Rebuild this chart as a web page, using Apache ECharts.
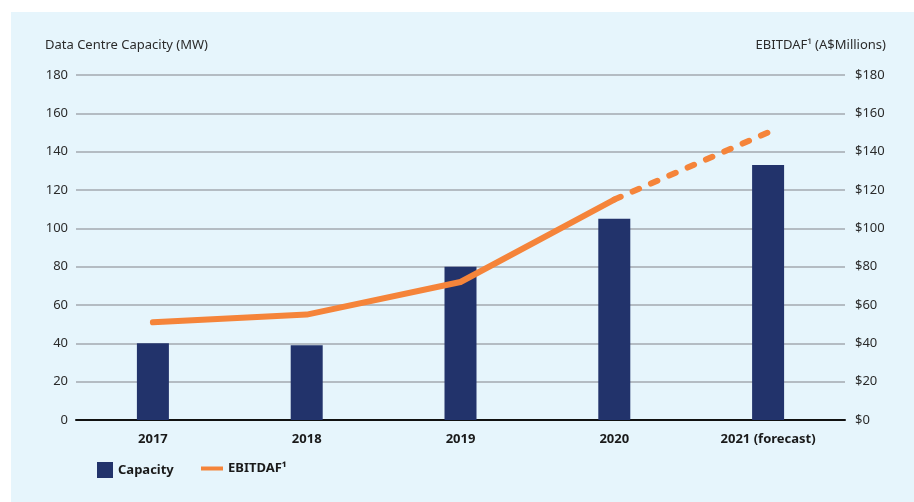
<!DOCTYPE html>
<html>
<head>
<meta charset="utf-8">
<script src="https://cdn.jsdelivr.net/npm/echarts@6/dist/echarts.min.js"></script>
<style>
html,body{margin:0;padding:0;background:#ffffff;}
#bg{position:absolute;left:11px;top:12px;width:903px;height:490px;background:#E6F5FC;}
#chart{position:absolute;left:0;top:0;width:914px;height:502px;}
</style>
</head>
<body>
<div id="bg"></div>
<div id="chart"></div>
<script>
const categories = ['2017', '2018', '2019', '2020', '2021 (forecast)'];
const capacity = [40, 39, 80, 105, 133];
const ebitdafActual = [51, 55, 72, 115, null];
const ebitdafForecast = [null, null, null, 115, 150];
const leftTicks = [0, 20, 40, 60, 80, 100, 120, 140, 160, 180];

const FONT = '"Noto Sans", sans-serif';
const chart = echarts.init(document.getElementById('chart'), null, {renderer: 'canvas'});
chart.setOption({
  backgroundColor: 'transparent',
  textStyle: {fontFamily: FONT},
  animation: false,
  grid: {left: 76, right: 69, top: 75, bottom: 82},
  graphic: [
    {type: 'text', left: 45, top: 39, style: {text: 'Data Centre Capacity (MW)', fontSize: 13, fill: '#2b2b2b', fontFamily: FONT}},
    {type: 'text', right: 28, top: 39, style: {text: 'EBITDAF\u00b9 (A$Millions)', fontSize: 13, fill: '#2b2b2b', fontFamily: FONT}}
  ],
  legend: [
    {
      left: 97, top: 462, padding: 0, icon: 'rect', itemWidth: 16, itemHeight: 16,
      data: ['Capacity'],
      textStyle: {fontSize: 13, fontWeight: 'bold', color: '#1a1a1a', fontFamily: FONT}
    },
    {
      left: 201, top: 462, padding: 0, icon: 'rect', itemWidth: 22, itemHeight: 4,
      data: ['EBITDAF\u00b9'],
      textStyle: {fontSize: 13, fontWeight: 'bold', color: '#1a1a1a', fontFamily: FONT}
    }
  ],
  xAxis: {
    type: 'category',
    data: categories,
    axisTick: {show: false},
    axisLine: {lineStyle: {color: '#111111', width: 2}},
    axisLabel: {margin: 13, fontSize: 13, fontWeight: 'bold', color: '#1a1a1a', fontFamily: FONT}
  },
  yAxis: [
    {
      type: 'value', min: leftTicks[0], max: leftTicks[leftTicks.length - 1], interval: 20,
      axisLine: {show: false}, axisTick: {show: false},
      axisLabel: {margin: 8, fontSize: 13, color: '#2b2b2b', fontFamily: FONT},
      splitLine: {lineStyle: {color: '#a3a9b0', width: 1.5}}
    },
    {
      type: 'value', min: leftTicks[0], max: leftTicks[leftTicks.length - 1], interval: 20,
      axisLine: {show: false}, axisTick: {show: false},
      axisLabel: {margin: 10, fontSize: 13, color: '#2b2b2b', fontFamily: FONT, formatter: '${value}'},
      splitLine: {show: false}
    }
  ],
  series: [
    {
      name: 'Capacity', type: 'bar', data: capacity, barWidth: 32,
      itemStyle: {color: '#22336B'}
    },
    {
      name: 'EBITDAF\u00b9', type: 'line', yAxisIndex: 1, data: ebitdafActual,
      symbol: 'none', color: '#F5843A',
      lineStyle: {color: '#F5843A', width: 6, cap: 'round', join: 'round'}
    },
    {
      name: 'EBITDAF forecast', type: 'line', yAxisIndex: 1, data: ebitdafForecast,
      symbol: 'none', color: '#F5843A',
      lineStyle: {color: '#F5843A', width: 6, cap: 'round', type: [7, 13]}
    }
  ]
});
</script>
</body>
</html>
